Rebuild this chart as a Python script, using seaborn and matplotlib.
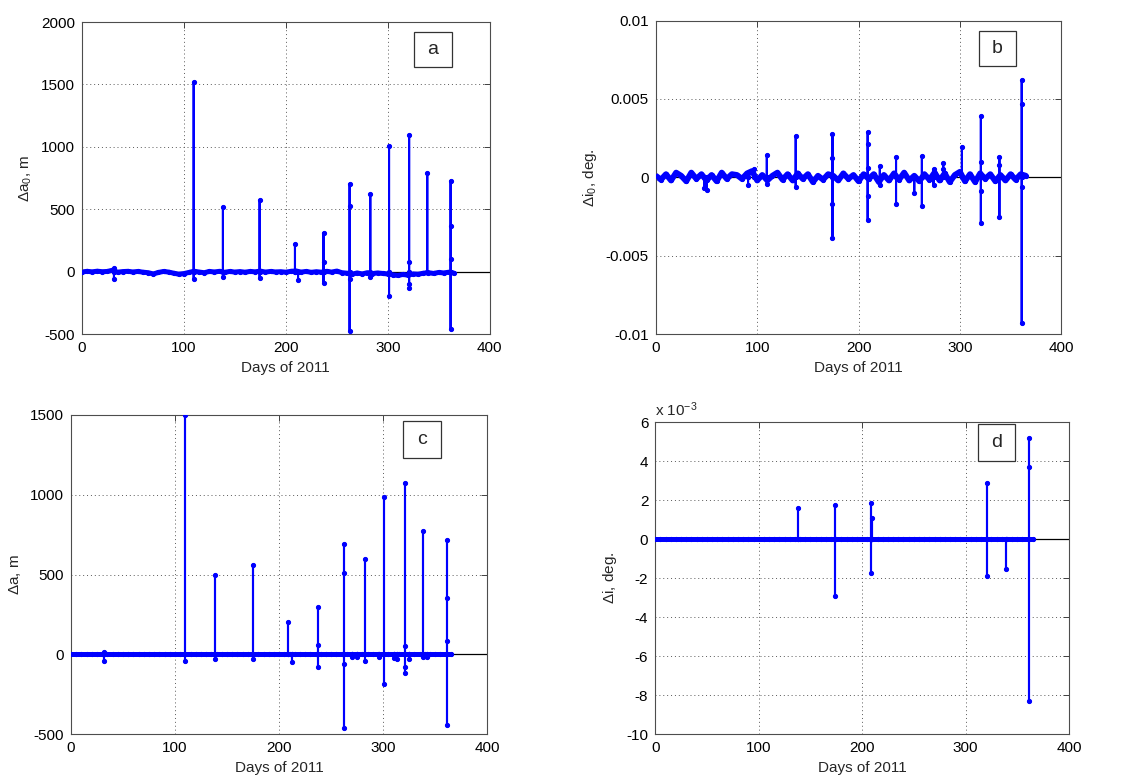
import numpy as np
import pandas as pd
import matplotlib
matplotlib.use('Agg')
import matplotlib.pyplot as plt
from matplotlib.patches import Rectangle
import seaborn as sns

sns.set_style('white')
plt.rcParams['font.family'] = ['Liberation Sans', 'DejaVu Sans']
plt.rcParams['mathtext.fontset'] = 'custom'
plt.rcParams['mathtext.rm'] = 'Liberation Sans'
plt.rcParams['mathtext.it'] = 'Liberation Sans:italic'
plt.rcParams['axes.unicode_minus'] = False

# ---------------- data ----------------
# background samples, every 5 days of 2011
base_days = np.arange(0, 366, 5)

# panel a: delta a0 [m], background scatter
da0_base = [-2, 3, -1, 4, 0, 2, 12, -4, 1, 3, -2, 2, -4, -8, -18, -6, 2, -3, -12, -20,
            -15, -6, 4, -3, -8, 2, -2, 3, -5, 2, -3, 1, -4, 2, -1, 5, -3, 2, -2, 0,
            -4, 3, 6, -3, 2, -5, 0, -4, 3, -3, 5, -8, -12, -20, -10, -18, -8, -15, -10, -14,
            -18, -25, -30, -22, -28, -18, -20, -12, -8, -14, -6, -10, -4, -12]
da0_spike_days = [31.4, 109.6, 138.3, 174.3, 209.0, 212.0, 237.0, 262.6, 282.9, 301.3, 321.0, 338.8, 361.7]
da0_spike_vals = [[30, -60], [1517, -60], [520, -40], [574, -50], [221], [-70], [312, 75, -90],
                  [705, 525, -60, -473], [622, -45], [1004, -196], [1097, 75, -100, -130],
                  [790], [729, 370, 100, -457]]

# panel b: delta i0 [1e-4 deg]
di0_base = [1, -1.5, 2, -2, 3, 1, -2.5, 3, -1, 2, -2, 1.5, -2.5, 3, -1, 2, 1.5, -1, 2.5, 4,
            -2, 1.5, -2, 1, 3, -1.5, 2, -2, 2.5, -1, 2, -3, 1, -1.5, 2, 1, -2, 2.5, -1, 1.5,
            -2.5, 2, -1, 2, -3, 1.5, -2, 2.5, -1.5, 3, -2, 1, -2.5, 2, -1.5, 3, -2, 2.5, -3, 1.5,
            3.5, -2.5, 2, -3, 2.5, -1, 2, -2.5, 1.5, -2, 2, -1.5, 2, 1]
di0_spike_days = [48, 50, 91, 97, 109.5, 138, 174.3, 209, 221, 237, 255, 262.5, 274, 283.6,
                  302, 320.7, 339, 361]
di0_spike_vals = [[-7], [-8], [-5], [5], [14, -4], [26.5, -6], [27.5, 12, -17, -38.5],
                  [29, 21, 6, -12, -27], [7, -5], [13, -17], [-10], [13.5, -18], [5, -5],
                  [9, 5], [19.5], [39, 10, -9, -29], [13, 8, -25], [62, 47, -6, -93]]

# panel c: delta a [m]
da_base = [0] * len(base_days)
da_spike_days = [31.5, 109.5, 138.5, 174.5, 208.8, 212, 237, 262.6, 270, 275, 282.8, 296,
                 300.5, 310, 313, 321, 325, 338.5, 342, 361]
da_spike_vals = [[15, -45], [1500, -45], [500, -30], [560, -30], [205], [-50], [295, 55, -80],
                 [690, 510, -60, -460], [-20], [-15], [597, -40], [-20], [985, -185], [-25],
                 [-30], [1075, 50, -80, -120], [-30], [770, -20], [-15], [715, 355, 85, -445]]

# panel d: delta i [1e-3 deg]
di_base = [0] * len(base_days)
di_spike_days = [138, 173.7, 208.9, 209.8, 321, 339, 361.3]
di_spike_vals = [[1.6], [1.75, -2.9], [1.85, -1.75], [1.1], [2.9, -1.9], [-1.5], [5.2, 3.7, -8.3]]


def build_series(base_vals, spike_days, spike_vals, scale=1.0):
    rows = [(d, 0, v) for d, v in zip(base_days, base_vals)]
    for d, vals in zip(spike_days, spike_vals):
        seq = [0] + list(vals) + [0]
        for k, v in enumerate(seq):
            rows.append((d, k + 1, v))
    df = pd.DataFrame(rows, columns=['day', 'seq', 'val'])
    df['val'] = df['val'] * scale
    return df.sort_values(['day', 'seq'], kind='stable').reset_index(drop=True)


def draw_panel(ax, df, yticks, yticklabels, ylabel, letter, box, band_lw=3.6):
    ax.axhline(0, color='k', lw=0.9, zorder=1)
    # dense background samples -> thick band
    sns.lineplot(data=df[df['seq'] == 0], x='day', y='val', sort=False, estimator=None,
                 ax=ax, color='blue', lw=band_lw, zorder=2)
    sns.lineplot(data=df, x='day', y='val', sort=False, estimator=None, ax=ax,
                 color='blue', lw=1.5, marker='o', markersize=3.0,
                 markeredgecolor='blue', markerfacecolor='blue', zorder=3)
    ax.set_xlim(0, 400)
    ax.set_ylim(yticks[0], yticks[-1])
    ax.set_xticks([0, 100, 200, 300, 400])
    ax.set_yticks(yticks)
    ax.set_yticklabels(yticklabels)
    ax.grid(True, color='0.35', linestyle=(0, (1, 3)), lw=0.7)
    ax.tick_params(direction='in', length=4, width=0.7, top=True, right=True,
                   labelsize=11, colors='0.25', labelcolor='black', pad=5)
    for s in ax.spines.values():
        s.set_color('0.3')
        s.set_linewidth(0.8)
    ax.set_xlabel('Days of 2011', fontsize=11, labelpad=4)
    ax.set_ylabel(ylabel, fontsize=11, labelpad=5)
    x0, y0, w, h = box
    ax.add_patch(Rectangle((x0, y0), w, h, transform=ax.transAxes, fc='white',
                           ec='0.2', lw=0.9, zorder=5))
    ax.text(x0 + w / 2, y0 + h / 2, letter, transform=ax.transAxes, ha='center',
            va='center', fontsize=14, zorder=6)


fig = plt.figure(figsize=(11.23, 7.77), dpi=100)
ax_a = fig.add_axes([0.073, 0.570, 0.363, 0.4016])
ax_b = fig.add_axes([0.584, 0.570, 0.361, 0.4036])
ax_c = fig.add_axes([0.0632, 0.0553, 0.3707, 0.4106])
ax_d = fig.add_axes([0.5835, 0.0553, 0.3684, 0.401])

draw_panel(ax_a, build_series(da0_base, da0_spike_days, da0_spike_vals),
           [-500, 0, 500, 1000, 1500, 2000], ['-500', '0', '500', '1000', '1500', '2000'],
           r'$\Delta$a$_0$, m', 'a', (0.814, 0.856, 0.093, 0.112))
draw_panel(ax_b, build_series(di0_base, di0_spike_days, di0_spike_vals, scale=1e-4),
           [-0.01, -0.005, 0, 0.005, 0.01], ['-0.01', '-0.005', '0', '0.005', '0.01'],
           r'$\Delta$i$_0$, deg.', 'b', (0.798, 0.8565, 0.09, 0.1116), band_lw=4.2)
draw_panel(ax_c, build_series(da_base, da_spike_days, da_spike_vals),
           [-500, 0, 500, 1000, 1500], ['-500', '0', '500', '1000', '1500'],
           r'$\Delta$a, m', 'c', (0.797, 0.866, 0.0913, 0.116))
draw_panel(ax_d, build_series(di_base, di_spike_days, di_spike_vals),
           [-10, -8, -6, -4, -2, 0, 2, 4, 6], ['-10', '-8', '-6', '-4', '-2', '0', '2', '4', '6'],
           r'$\Delta$i, deg.', 'd', (0.779, 0.875, 0.09, 0.119))
ax_d.text(0.0, 1.012, r'x 10$^{-3}$', transform=ax_d.transAxes, ha='left', va='bottom',
          fontsize=11)

fig.savefig('out.png', dpi=100)
